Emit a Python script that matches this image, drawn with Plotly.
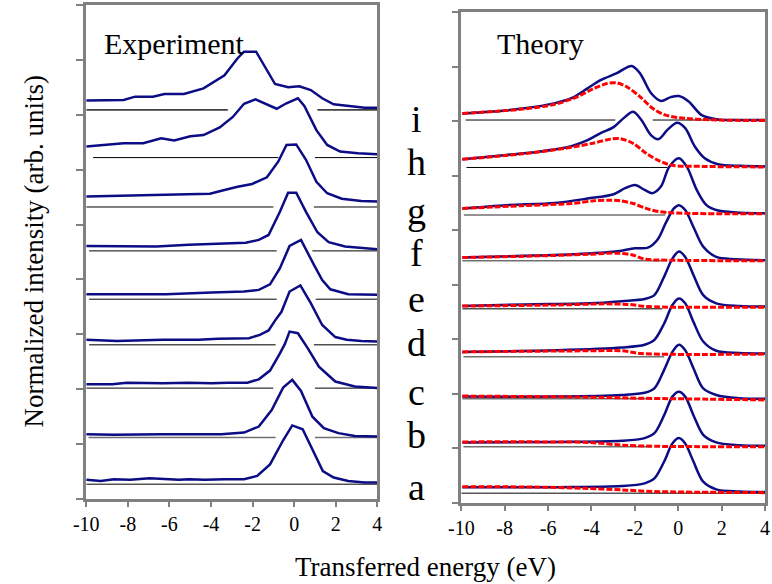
import plotly.graph_objects as go

W, H = 772, 584

# ---------------- labels / ticks ----------------
LETTERS = ["a", "b", "c", "d", "e", "f", "g", "h", "i"]
X_TICKS = [-10, -8, -6, -4, -2, 0, 2, 4]
X_TICK_LABELS = ["-10", "-8", "-6", "-4", "-2", "0", "2", "4"]
Y_TICKS = [0, 1, 2, 3, 4, 5, 6, 7, 8, 9]

# ---------------- Experiment (energy eV, offset intensity) ----------------
EXP_A_E = [-10, -9.3, -8.67, -7.89, -6.95, -5.54, -5.07, -4.29, -3.35, -2.41, -1.78, -1.16, -0.53, -0.09, 0.41, 0.88, 1.38, 1.90, 2.60, 3.39, 4.0]
EXP_A_Y = [0.35, 0.33, 0.36, 0.35, 0.38, 0.35, 0.36, 0.35, 0.36, 0.36, 0.42, 0.63, 1.07, 1.34, 1.27, 0.89, 0.51, 0.39, 0.33, 0.30, 0.30]
EXP_B_E = [-10, -8.67, -6.32, -3.50, -2.41, -1.70, -1.08, -0.53, -0.09, 0.33, 0.88, 1.43, 2.13, 2.92, 4.0]
EXP_B_Y = [1.18, 1.17, 1.18, 1.18, 1.21, 1.32, 1.62, 2.03, 2.17, 1.97, 1.50, 1.29, 1.20, 1.15, 1.14]
EXP_C_E = [-10, -8.75, -8.04, -6.32, -5.07, -3.97, -3.19, -2.25, -1.70, -1.16, -0.69, -0.45, -0.22, 0.18, 0.65, 1.19, 1.98, 2.92, 4.0]
EXP_C_Y = [2.09, 2.09, 2.12, 2.11, 2.12, 2.11, 2.12, 2.12, 2.18, 2.34, 2.65, 2.82, 3.05, 3.02, 2.75, 2.41, 2.14, 2.05, 2.02]
EXP_D_E = [-10, -8.51, -6.32, -4.60, -3.66, -2.17, -1.65, -1.23, -0.92, -0.61, -0.22, 0.30, 0.80, 1.35, 1.98, 2.53, 3.23, 4.0]
EXP_D_Y = [2.90, 2.88, 2.90, 2.90, 2.92, 2.93, 2.99, 3.07, 3.25, 3.41, 3.78, 3.89, 3.57, 3.17, 2.95, 2.90, 2.88, 2.87]
EXP_E_E = [-10, -8.36, -6.16, -3.97, -2.41, -1.70, -1.16, -0.69, -0.29, -0.22, 0.33, 0.57, 0.96, 1.35, 1.74, 2.60, 3.23, 4.0]
EXP_E_Y = [3.73, 3.73, 3.73, 3.76, 3.78, 3.81, 3.91, 4.20, 4.54, 4.61, 4.72, 4.54, 4.26, 3.99, 3.82, 3.73, 3.73, 3.72]
EXP_F_E = [-10, -8.36, -6.63, -5.07, -3.50, -2.33, -1.70, -1.23, -0.69, -0.29, 0.10, 0.57, 1.12, 1.66, 2.45, 3.23, 4.0]
EXP_F_Y = [4.61, 4.61, 4.60, 4.63, 4.66, 4.67, 4.72, 4.81, 5.23, 5.58, 5.58, 5.23, 4.86, 4.68, 4.60, 4.57, 4.55]
EXP_G_E = [-10, -8.67, -7.42, -5.85, -4.05, -3.35, -2.72, -2.02, -1.31, -0.76, -0.37, 0.10, 0.57, 1.07, 1.59, 2.29, 3.23, 4.0]
EXP_G_Y = [5.51, 5.52, 5.54, 5.55, 5.56, 5.63, 5.69, 5.74, 5.86, 6.15, 6.45, 6.46, 6.18, 5.78, 5.57, 5.47, 5.43, 5.42]
EXP_H_E = [-10, -8.98, -8.2, -7.26, -6.4, -5.77, -4.99, -4.36, -3.58, -2.95, -2.41, -1.86, -0.84, -0.37, 0.18, 0.49, 1.07, 1.59, 2.21, 3.07, 4.0]
EXP_H_Y = [6.42, 6.46, 6.48, 6.48, 6.57, 6.53, 6.61, 6.63, 6.77, 6.96, 7.20, 7.28, 7.11, 7.21, 7.30, 7.16, 6.72, 6.45, 6.33, 6.30, 6.28]
EXP_I_E = [-10, -8.2, -7.65, -6.79, -6.24, -5.3, -4.36, -3.35, -2.72, -2.41, -1.83, -0.92, -0.29, 0.25, 0.80, 1.35, 1.90, 2.76, 3.39, 4.0]
EXP_I_Y = [7.26, 7.27, 7.33, 7.33, 7.38, 7.38, 7.48, 7.72, 8.03, 8.15, 8.15, 7.56, 7.50, 7.52, 7.45, 7.30, 7.19, 7.15, 7.13, 7.13]

# baselines (a..i): level, start, gap start, gap end (None = no gap)
EXP_BASE_LEVEL = [0.27, 1.12, 2.02, 2.81, 3.64, 4.52, 5.32, 6.22, 7.09]
EXP_BASE_START = [-10, -9.89, -10, -9.86, -9.86, -9.86, -10, -9.67, -10]
EXP_BASE_GAP0 = [None, -0.89, -1.0, -0.89, -0.84, -0.84, -1.0, -0.76, -3.19]
EXP_BASE_GAP1 = [None, 1.0, 1.0, 0.95, 1.04, 0.88, 0.95, 1.0, 1.12]
EXP_BASE_COLOR = ["#000000", "#707070", "#000000", "#505050", "#000000", "#000000", "#000000", "#000000", "#404040"]

# ---------------- Theory: solid (total) ----------------
TH_A_E = [-9.95, -5.60, -2.60, -1.55, -1.10, -0.65, -0.27, 0.03, 0.32, 0.70, 1.15, 1.75, 2.80, 4.0]
TH_A_Y = [0.29, 0.29, 0.31, 0.36, 0.45, 0.76, 1.09, 1.19, 1.09, 0.76, 0.39, 0.25, 0.21, 0.20]
TH_B_E = [-9.95, -5.60, -2.60, -1.55, -1.10, -0.65, -0.27, 0.03, 0.32, 0.70, 1.15, 1.75, 2.80, 4.0]
TH_B_Y = [1.11, 1.12, 1.14, 1.19, 1.28, 1.61, 1.95, 2.04, 1.95, 1.61, 1.25, 1.11, 1.06, 1.05]
TH_C_E = [-9.95, -5.60, -2.60, -1.55, -1.10, -0.65, -0.27, 0.03, 0.32, 0.70, 1.15, 1.75, 2.80, 4.0]
TH_C_Y = [1.95, 1.95, 1.98, 2.02, 2.10, 2.44, 2.77, 2.90, 2.80, 2.47, 2.10, 1.98, 1.92, 1.91]
TH_D_E = [-9.95, -5.60, -2.60, -1.55, -1.10, -0.65, -0.27, 0.03, 0.32, 0.70, 1.15, 1.75, 2.80, 4.0]
TH_D_Y = [2.77, 2.80, 2.85, 2.90, 2.99, 3.29, 3.63, 3.75, 3.66, 3.32, 2.96, 2.79, 2.75, 2.74]
TH_E_E = [-9.95, -7.10, -4.10, -2.60, -1.55, -1.10, -0.65, -0.27, 0.03, 0.32, 0.70, 1.15, 1.75, 2.80, 4.0]
TH_E_Y = [3.61, 3.64, 3.66, 3.70, 3.74, 3.81, 4.15, 4.48, 4.61, 4.51, 4.18, 3.81, 3.66, 3.61, 3.60]
TH_F_E = [-9.95, -7.10, -4.85, -2.90, -2.00, -1.40, -0.95, -0.58, -0.20, 0.03, 0.32, 0.70, 1.15, 1.75, 2.65, 4.0]
TH_F_Y = [4.50, 4.53, 4.56, 4.61, 4.67, 4.68, 4.83, 5.13, 5.40, 5.46, 5.37, 5.06, 4.70, 4.51, 4.47, 4.45]
TH_G_E = [-9.95, -7.93, -5.68, -4.18, -2.98, -2.45, -2.00, -1.55, -1.18, -0.80, -0.42, 0.03, 0.40, 0.85, 1.30, 1.83, 2.88, 4.0]
TH_G_Y = [5.40, 5.46, 5.50, 5.58, 5.66, 5.77, 5.83, 5.74, 5.68, 5.80, 6.16, 6.32, 6.16, 5.74, 5.46, 5.36, 5.32, 5.31]
TH_H_E = [-9.95, -7.93, -6.43, -4.93, -4.18, -3.58, -2.98, -2.53, -2.08, -1.70, -1.25, -0.91, -0.50, -0.05, 0.32, 0.77, 1.22, 1.83, 2.88, 4.0]
TH_H_Y = [6.30, 6.38, 6.44, 6.54, 6.65, 6.78, 6.89, 7.05, 7.17, 7.02, 6.74, 6.67, 6.84, 6.97, 6.87, 6.53, 6.32, 6.21, 6.18, 6.17]
TH_I_E = [-9.95, -8.68, -7.18, -5.68, -4.93, -4.18, -3.58, -2.83, -2.15, -1.77, -1.25, -0.80, -0.35, 0.03, 0.48, 1.08, 1.83, 2.88, 4.0]
TH_I_Y = [7.14, 7.17, 7.23, 7.33, 7.42, 7.60, 7.75, 7.88, 8.01, 7.88, 7.51, 7.37, 7.44, 7.46, 7.36, 7.11, 7.03, 7.02, 7.02]

# ---------------- Theory: dashed (red component) ----------------
TD_A_E = [-9.95, -6.35, -4.40, -2.60, -1.10, 4.0]
TD_A_Y = [0.30, 0.29, 0.27, 0.24, 0.21, 0.19]
TD_B_E = [-9.95, -6.35, -4.10, -2.60, -1.10, 4.0]
TD_B_Y = [1.12, 1.12, 1.11, 1.06, 1.04, 1.03]
TD_C_E = [-9.95, -4.10, -1.70, 4.0]
TD_C_Y = [1.96, 1.94, 1.92, 1.89]
TD_D_E = [-9.95, -4.10, -2.60, -1.70, 4.0]
TD_D_Y = [2.77, 2.79, 2.79, 2.74, 2.73]
TD_E_E = [-9.95, -5.60, -3.35, -2.30, -1.40, 4.0]
TD_E_Y = [3.61, 3.63, 3.65, 3.64, 3.60, 3.59]
TD_F_E = [-9.95, -6.35, -4.10, -2.90, -2.15, -1.55, -0.35, 4.0]
TD_F_Y = [4.50, 4.53, 4.56, 4.58, 4.55, 4.47, 4.45, 4.44]
TD_G_E = [-9.95, -7.18, -4.93, -3.88, -3.13, -2.68, -2.08, -1.48, -0.87, 0.32, 4.0]
TD_G_Y = [5.40, 5.45, 5.49, 5.54, 5.55, 5.54, 5.49, 5.40, 5.34, 5.31, 5.30]
TD_H_E = [-9.95, -7.18, -4.93, -3.88, -3.13, -2.68, -2.08, -1.48, -0.87, -0.27, 1.08, 4.0]
TD_H_Y = [6.30, 6.40, 6.52, 6.60, 6.67, 6.68, 6.59, 6.41, 6.27, 6.19, 6.17, 6.16]
TD_I_E = [-9.95, -7.18, -5.68, -4.63, -3.88, -3.28, -2.83, -2.38, -1.77, -1.17, -0.58, 0.32, 1.83, 4.0]
TD_I_Y = [7.14, 7.22, 7.31, 7.45, 7.60, 7.69, 7.70, 7.63, 7.45, 7.23, 7.11, 7.05, 7.02, 7.01]

TH_BASE_LEVEL = [0.18, 1.03, 1.91, 2.68, 3.56, 4.44, 5.28, 6.15, 7.02]
TH_BASE_START = [-10, -9.9, -9.95, -9.9, -9.95, -9.95, -9.88, -9.76, -9.8]
TH_BASE_END = [4.0, -1.26, -1.4, -0.65, -0.73, -0.73, -0.6, -0.5, -2.9]
TH_BASE_RESTART = [None, None, None, None, None, None, None, None, -1.18]
TH_BASE_COLOR = ["#000000", "#707070", "#707070", "#707070", "#505050", "#707070", "#707070", "#000000", "#000000"]

EXP_E = [EXP_A_E, EXP_B_E, EXP_C_E, EXP_D_E, EXP_E_E, EXP_F_E, EXP_G_E, EXP_H_E, EXP_I_E]
EXP_Y = [EXP_A_Y, EXP_B_Y, EXP_C_Y, EXP_D_Y, EXP_E_Y, EXP_F_Y, EXP_G_Y, EXP_H_Y, EXP_I_Y]
TH_E = [TH_A_E, TH_B_E, TH_C_E, TH_D_E, TH_E_E, TH_F_E, TH_G_E, TH_H_E, TH_I_E]
TH_Y = [TH_A_Y, TH_B_Y, TH_C_Y, TH_D_Y, TH_E_Y, TH_F_Y, TH_G_Y, TH_H_Y, TH_I_Y]
TD_E = [TD_A_E, TD_B_E, TD_C_E, TD_D_E, TD_E_E, TD_F_E, TD_G_E, TD_H_E, TD_I_E]
TD_Y = [TD_A_Y, TD_B_Y, TD_C_Y, TD_D_Y, TD_E_Y, TD_F_Y, TD_G_Y, TD_H_Y, TD_I_Y]

NAVY = "#0c0c84"
RED = "#ff0000"
FONT = "Liberation Serif"


def px_x(p):
    return p / W


def px_y(p):
    return 1 - p / H


fig = go.Figure()

# baselines
for k in range(9):
    lvl = EXP_BASE_LEVEL[k]
    col = EXP_BASE_COLOR[k]
    lw = 1.0 if col == "#000000" else 1.6
    if EXP_BASE_GAP0[k] is None:
        xs = [EXP_BASE_START[k], 4.2]
        ys = [lvl, lvl]
    else:
        xs = [EXP_BASE_START[k], EXP_BASE_GAP0[k], None, EXP_BASE_GAP1[k], 4.2]
        ys = [lvl, lvl, None, lvl, lvl]
    fig.add_trace(go.Scatter(x=xs, y=ys, mode="lines", line=dict(color=col, width=lw),
                             xaxis="x", yaxis="y", showlegend=False, hoverinfo="skip"))

for k in range(9):
    lvl = TH_BASE_LEVEL[k]
    col = TH_BASE_COLOR[k]
    lw = 1.0 if col == "#000000" else 1.6
    if TH_BASE_RESTART[k] is None:
        xs = [TH_BASE_START[k], TH_BASE_END[k]]
        ys = [lvl, lvl]
    else:
        xs = [TH_BASE_START[k], TH_BASE_END[k], None, TH_BASE_RESTART[k], 4.2]
        ys = [lvl, lvl, None, lvl, lvl]
    fig.add_trace(go.Scatter(x=xs, y=ys, mode="lines", line=dict(color=col, width=lw),
                             xaxis="x2", yaxis="y2", showlegend=False, hoverinfo="skip"))

# experiment curves
for k in range(9):
    fig.add_trace(go.Scatter(x=EXP_E[k], y=EXP_Y[k], mode="lines",
                             line=dict(color=NAVY, width=2.5),
                             xaxis="x", yaxis="y", showlegend=False))

# theory curves
for k in range(9):
    fig.add_trace(go.Scatter(x=TH_E[k], y=TH_Y[k], mode="lines",
                             line=dict(color=NAVY, width=2.5, shape="spline", smoothing=0.9),
                             xaxis="x2", yaxis="y2", showlegend=False))
for k in range(9):
    fig.add_trace(go.Scatter(x=TD_E[k], y=TD_Y[k], mode="lines",
                             line=dict(color=RED, width=3, dash="6px,2px", shape="spline", smoothing=0.9),
                             xaxis="x2", yaxis="y2", showlegend=False))

axis_common = dict(
    showline=True, linecolor="#808080", linewidth=3, mirror=True,
    ticks="outside", tickcolor="#808080", tickwidth=2,
    showgrid=False, zeroline=False,
)

fig.update_layout(
    width=W, height=H,
    margin=dict(l=0, r=0, t=0, b=0),
    paper_bgcolor="white", plot_bgcolor="white",
    font=dict(family=FONT, color="black"),
    xaxis=dict(domain=[px_x(75), px_x(373)], range=[-10, 4], anchor="y", ticklen=5,
               tickmode="array", tickvals=X_TICKS, ticktext=X_TICK_LABELS,
               tickfont=dict(size=20, family=FONT, color="black"), **axis_common),
    yaxis=dict(domain=[px_y(499), px_y(5)], range=[0, 9], anchor="x", ticklen=7,
               tickmode="array", tickvals=Y_TICKS, showticklabels=False, **axis_common),
    xaxis2=dict(domain=[px_x(459), px_x(770)], range=[-10, 4], anchor="y2", ticklen=5,
                tickmode="array", tickvals=X_TICKS, ticktext=X_TICK_LABELS,
                tickfont=dict(size=20, family=FONT, color="black"), **axis_common),
    yaxis2=dict(domain=[px_y(503), px_y(12)], range=[0, 9], anchor="x2", ticklen=6,
                tickmode="array", tickvals=Y_TICKS, showticklabels=False, **axis_common),
)

annotations = [
    dict(text="Experiment", x=px_x(91), y=px_y(43), xanchor="left", yanchor="middle",
         font=dict(size=30, family=FONT, color="black")),
    dict(text="Theory", x=px_x(493), y=px_y(44), xanchor="left", yanchor="middle",
         font=dict(size=30, family=FONT, color="black")),
    dict(text="Transferred energy (eV)", x=px_x(422), y=px_y(567), xanchor="center", yanchor="middle",
         font=dict(size=27, family=FONT, color="black")),
    dict(text="Normalized intensity (arb. units)", x=px_x(21), y=px_y(252), xanchor="center", yanchor="middle",
         textangle=-90, font=dict(size=27, family=FONT, color="black")),
]
LETTER_Y_PX = [487, 435, 392, 343, 299, 253, 211, 162, 119]
for k, lt in enumerate(LETTERS):
    annotations.append(dict(text=lt, x=px_x(413), y=px_y(LETTER_Y_PX[k]), xanchor="center", yanchor="middle",
                            font=dict(size=38, family=FONT, color="black")))
for a in annotations:
    a.update(xref="paper", yref="paper", showarrow=False)
fig.update_layout(annotations=annotations)

fig.write_html("out.html")
